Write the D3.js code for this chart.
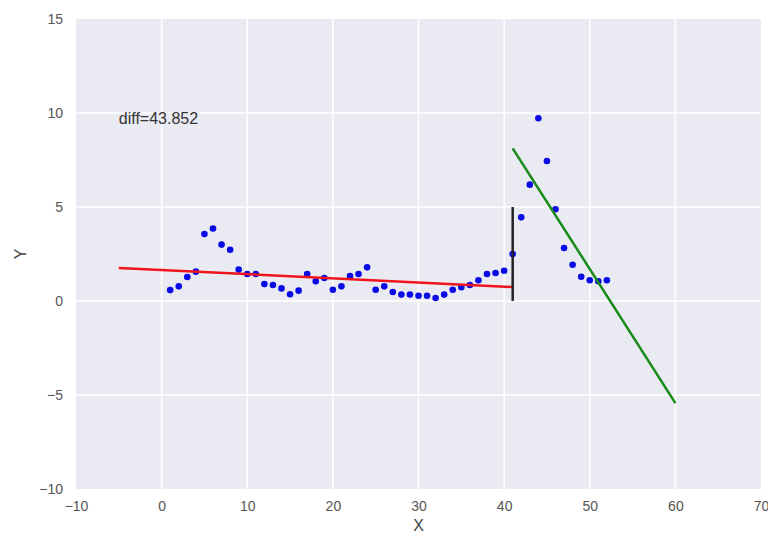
<!DOCTYPE html>
<html>
<head>
<meta charset="utf-8">
<script src="https://cdn.jsdelivr.net/npm/d3@7"></script>
<style>
  html, body { margin: 0; padding: 0; background: #fff; }
  svg { display: block; font-family: "Liberation Sans", Arial, sans-serif; }
</style>
</head>
<body>
<div id="chart-container"></div>
<script>
  // ==== data ====
  const pointX = [
    1, 2, 3, 4, 5, 6, 7, 8, 9, 10, 11, 12, 13, 14, 15, 16, 17, 18, 19, 20,
    21, 22, 23, 24, 25, 26, 27, 28, 29, 30, 31, 32, 33, 34, 35, 36, 37, 38,
    39, 40, 41, 42, 43, 44, 45, 46, 47, 48, 49, 50, 51, 52,
  ]
  const pointY = [
    0.58, 0.78, 1.28, 1.56, 3.56, 3.86, 3.0, 2.73, 1.67, 1.44, 1.44, 0.9,
    0.85, 0.67, 0.36, 0.55, 1.44, 1.05, 1.22, 0.6, 0.78, 1.33, 1.44, 1.79,
    0.6, 0.78, 0.48, 0.34, 0.34, 0.28, 0.28, 0.16, 0.34, 0.6, 0.73, 0.85,
    1.1, 1.44, 1.49, 1.61, 2.5, 4.45, 6.19, 9.72, 7.45, 4.88, 2.82, 1.93,
    1.29, 1.1, 1.05, 1.1,
  ]
  // fitted segments: [x, y] end points
  const redLine = [[-5, 1.76], [41, 0.74]]
  const greenLine = [[41, 8.12], [60, -5.43]]
  const splitLine = [[41, 0], [41, 5]]
  const xTicks = [-10, 0, 10, 20, 30, 40, 50, 60, 70]
  const yTicks = [-10, -5, 0, 5, 10, 15]
  const diffLabel = 'diff=43.852'

  const width = 768
  const height = 536
  const margin = { top: 19, right: 7, bottom: 47, left: 76 }

  const svg = d3
    .select('#chart-container')
    .append('svg')
    .attr('width', width)
    .attr('height', height)

  const x = d3.scaleLinear().domain([-10, 70]).range([margin.left, width - margin.right])
  const y = d3.scaleLinear().domain([-10, 15]).range([height - margin.bottom, margin.top])

  // plot background (seaborn darkgrid)
  svg
    .append('rect')
    .attr('x', margin.left)
    .attr('y', margin.top)
    .attr('width', width - margin.left - margin.right)
    .attr('height', height - margin.top - margin.bottom)
    .attr('fill', '#eaeaf2')

  // axes, ticks only
  const xAxis = d3.axisBottom(x).tickValues(xTicks).tickSize(0).tickPadding(12)
  const yAxis = d3.axisLeft(y).tickValues(yTicks).tickSize(0).tickPadding(13)

  const gx = svg
    .append('g')
    .attr('transform', `translate(0,${height - margin.bottom})`)
    .call(xAxis)
  const gy = svg.append('g').attr('transform', `translate(${margin.left},0)`).call(yAxis)

  ;[gx, gy].forEach((g) => {
    g.select('.domain').remove()
    g.selectAll('text').attr('fill', '#555').attr('font-size', 14)
  })

  // grid
  svg
    .append('g')
    .selectAll('line')
    .data(xTicks.slice(1, -1))
    .join('line')
    .attr('x1', (d) => x(d))
    .attr('x2', (d) => x(d))
    .attr('y1', margin.top)
    .attr('y2', height - margin.bottom)
    .attr('stroke', '#fff')
    .attr('stroke-width', 1.5)

  svg
    .append('g')
    .selectAll('line')
    .data(yTicks.slice(1, -1))
    .join('line')
    .attr('x1', margin.left)
    .attr('x2', width - margin.right)
    .attr('y1', (d) => y(d))
    .attr('y2', (d) => y(d))
    .attr('stroke', '#fff')
    .attr('stroke-width', 1.5)

  // axis titles
  svg
    .append('text')
    .attr('x', (margin.left + width - margin.right) / 2)
    .attr('y', height - 5)
    .attr('text-anchor', 'middle')
    .attr('fill', '#444')
    .attr('font-size', 16)
    .text('X')

  svg
    .append('text')
    .attr('transform', `translate(26,${(margin.top + height - margin.bottom) / 2}) rotate(-90)`)
    .attr('text-anchor', 'middle')
    .attr('fill', '#444')
    .attr('font-size', 16)
    .text('Y')

  // scatter
  svg
    .append('g')
    .selectAll('circle')
    .data(pointX.map((d, i) => [d, pointY[i]]))
    .join('circle')
    .attr('cx', (d) => x(d[0]))
    .attr('cy', (d) => y(d[1]))
    .attr('r', 3.3)
    .attr('fill', '#0a0ae6')

  // fitted lines
  const line = d3
    .line()
    .x((d) => x(d[0]))
    .y((d) => y(d[1]))

  svg.append('path').attr('d', line(redLine)).attr('stroke', '#f0141e').attr('stroke-width', 2.5).attr('fill', 'none')
  svg.append('path').attr('d', line(splitLine)).attr('stroke', '#222').attr('stroke-width', 2.5).attr('fill', 'none')
  svg.append('path').attr('d', line(greenLine)).attr('stroke', '#178a17').attr('stroke-width', 2.5).attr('fill', 'none')

  // annotation
  svg
    .append('text')
    .attr('x', x(-5))
    .attr('y', y(9.4))
    .attr('fill', '#333')
    .attr('font-size', 16)
    .text(diffLabel)
</script>
</body>
</html>
